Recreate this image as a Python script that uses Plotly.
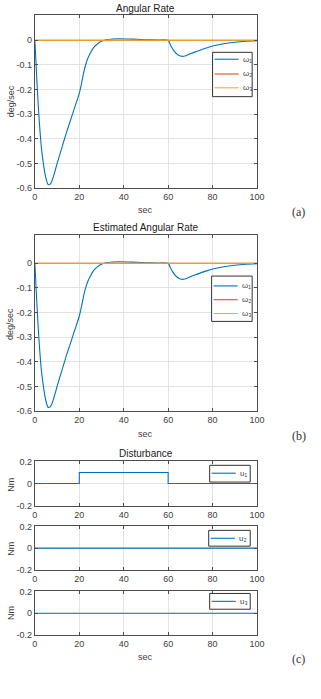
import plotly.graph_objects as go

W, H = 321, 699

# ---- data ----
t_w = [0, 0.5, 1, 1.5, 2, 2.5, 3, 4, 5, 6, 7, 8, 9, 10, 12, 14, 16, 18, 20,
       21, 22, 23, 24, 25, 26, 27, 28, 29, 30, 32, 35, 38, 42, 46, 50, 55, 60,
       61, 62, 63, 64, 65, 66, 67, 68, 70, 72, 75, 78, 80, 85, 90, 95, 100]
w1 = [0, -0.09, -0.18, -0.26, -0.33, -0.39, -0.44, -0.51, -0.56, -0.585, -0.582, -0.562,
      -0.532, -0.50, -0.44, -0.38, -0.325, -0.27, -0.215,
      -0.175, -0.13, -0.095, -0.07, -0.052, -0.036, -0.024, -0.016, -0.009, -0.004,
      0.002, 0.005, 0.006, 0.005, 0.004, 0.002, 0.001, 0.0,
      -0.018, -0.034, -0.047, -0.056, -0.062, -0.065, -0.065, -0.063, -0.055, -0.048,
      -0.038, -0.029, -0.023, -0.014, -0.008, -0.004, -0.002]
w_est1 = list(w1)
t_flat = [0, 100]
w2 = [0, 0]
w3 = [0, 0]

t_u = [0, 20, 20, 60, 60, 100]
u1 = [0, 0, 0.1, 0.1, 0, 0]
u2 = [0, 0, 0, 0, 0, 0]
u3 = [0, 0, 0, 0, 0, 0]

x_ticks = [0, 20, 40, 60, 80, 100]
w_ticks = [0, -0.1, -0.2, -0.3, -0.4, -0.5, -0.6]
w_ticktext = ["0", "-0.1", "-0.2", "-0.3", "-0.4", "-0.5", "-0.6"]
u_ticks = [-0.2, 0, 0.2]
u_ticktext = ["-0.2", "0", "0.2"]
w_names = ["ω₁", "ω₂", "ω₃"]
u_names = ["u₁", "u₂", "u₃"]

C1, C2, C3 = "#0072BD", "#D95319", "#EDB120"
FONT = "Arial, Liberation Sans, sans-serif"
AXC = "#4d4d4d"
GRID = "#e3e3e3"
TXT = "#404040"


def py(p):
    return 1 - p / H


def px(p):
    return p / W


fig = go.Figure()

panels = [
    ("x", "y", 10, 186, [-0.6, 0.103], w_ticks, w_ticktext),
    ("x2", "y2", 233, 412, [-0.6, 0.116], w_ticks, w_ticktext),
    ("x3", "y3", 463, 508, [-0.2, 0.2], u_ticks, u_ticktext),
    ("x4", "y4", 529, 573, [-0.2, 0.2], u_ticks, u_ticktext),
    ("x5", "y5", 595, 639, [-0.2, 0.2], u_ticks, u_ticktext),
]

layout = dict(
    width=W, height=H, margin=dict(l=0, r=0, t=0, b=0),
    paper_bgcolor="white", plot_bgcolor="white", showlegend=False,
    font=dict(family=FONT, size=9, color=TXT),
)
for i, (xa, ya, top, bot, yr, tv, tt) in enumerate(panels):
    xk = "xaxis" if i == 0 else f"xaxis{i+1}"
    yk = "yaxis" if i == 0 else f"yaxis{i+1}"
    layout[xk] = dict(
        domain=[px(33), px(263)], range=[0, 100], anchor=ya,
        tickvals=x_ticks, ticktext=[str(v) for v in x_ticks],
        showgrid=True, gridcolor=GRID, gridwidth=1, zeroline=False,
        showline=True, mirror="ticks", linecolor=AXC, linewidth=1,
        ticks="inside", ticklen=3, tickcolor=AXC,
        tickfont=dict(size=9, color=TXT, family=FONT), fixedrange=True,
    )
    layout[yk] = dict(
        domain=[py(bot), py(top)], range=yr, anchor=xa,
        tickvals=tv, ticktext=tt,
        showgrid=True, gridcolor=GRID, gridwidth=1, zeroline=False,
        showline=True, mirror="ticks", linecolor=AXC, linewidth=1,
        ticks="inside", ticklen=3, tickcolor=AXC,
        tickfont=dict(size=9, color=TXT, family=FONT), fixedrange=True,
    )
fig.update_layout(**layout)

LW = 1.1
fig.add_trace(go.Scatter(x=t_w, y=w1, mode="lines", line=dict(color=C1, width=LW, shape="spline", smoothing=0.6), xaxis="x", yaxis="y"))
fig.add_trace(go.Scatter(x=t_flat, y=w2, mode="lines", line=dict(color=C2, width=LW), xaxis="x", yaxis="y"))
fig.add_trace(go.Scatter(x=t_flat, y=w3, mode="lines", line=dict(color=C3, width=LW), xaxis="x", yaxis="y"))
fig.add_trace(go.Scatter(x=t_w, y=w_est1, mode="lines", line=dict(color=C1, width=LW, shape="spline", smoothing=0.6), xaxis="x2", yaxis="y2"))
fig.add_trace(go.Scatter(x=t_flat, y=w2, mode="lines", line=dict(color=C2, width=LW), xaxis="x2", yaxis="y2"))
fig.add_trace(go.Scatter(x=t_flat, y=w3, mode="lines", line=dict(color=C3, width=LW), xaxis="x2", yaxis="y2"))
fig.add_trace(go.Scatter(x=t_u, y=u1, mode="lines", line=dict(color=C1, width=LW), xaxis="x3", yaxis="y3"))
fig.add_trace(go.Scatter(x=t_u, y=u2, mode="lines", line=dict(color=C1, width=LW), xaxis="x4", yaxis="y4"))
fig.add_trace(go.Scatter(x=t_u, y=u3, mode="lines", line=dict(color=C1, width=LW), xaxis="x5", yaxis="y5"))

ann = []
shapes = []


def text(x, y, s, size=9, color=TXT, family=FONT, angle=0, xanchor="center"):
    ann.append(dict(x=px(x), y=py(y), xref="paper", yref="paper", text=s, showarrow=False,
                    font=dict(size=size, color=color, family=family), textangle=angle,
                    xanchor=xanchor, yanchor="middle"))


text(148, 4, "Angular Rate", size=10, color="#1a1a1a")
text(148, 226, "Estimated Angular Rate", size=10, color="#1a1a1a")
text(148, 455, "Disturbance", size=10, color="#1a1a1a")
text(148, 208, "sec")
text(148, 435, "sec")
text(148, 661, "sec")
text(8, 98, "deg/sec", angle=-90)
text(8, 324, "deg/sec", angle=-90)
text(8, 487, "Nm", angle=-90)
text(8, 552, "Nm", angle=-90)
text(8, 617, "Nm", angle=-90)
SERIF = "Liberation Serif, DejaVu Serif, serif"
text(306, 210, "(a)", size=12, color="#333333", family=SERIF)
text(306, 437, "(b)", size=12, color="#333333", family=SERIF)
text(306, 663, "(c)", size=12, color="#333333", family=SERIF)


def legend(x0, y0, x1, y1, entries):
    shapes.append(dict(type="rect", xref="paper", yref="paper", x0=px(x0), x1=px(x1),
                       y0=py(y1), y1=py(y0), line=dict(color="#333333", width=1),
                       fillcolor="white", layer="above"))
    for (yc, col, lab) in entries:
        shapes.append(dict(type="line", xref="paper", yref="paper", x0=px(x0 + 2), x1=px(x0 + 27),
                           y0=py(yc), y1=py(yc), line=dict(color=col, width=LW), layer="above"))
        text(x0 + 29, yc, lab, size=8, xanchor="left")


legend(217, 48, 258, 93, [(55, C1, w_names[0]), (70, C2, w_names[1]), (84, C3, w_names[2])])
legend(216, 275, 258, 321, [(285, C1, w_names[0]), (299, C2, w_names[1]), (313, C3, w_names[2])])
legend(214, 467, 256, 484, [(475, C1, u_names[0])])
legend(213, 533, 256, 549, [(541, C1, u_names[1])])
legend(214, 597, 256, 613, [(605, C1, u_names[2])])

fig.update_layout(annotations=ann, shapes=shapes)
fig.write_html("out.html")
